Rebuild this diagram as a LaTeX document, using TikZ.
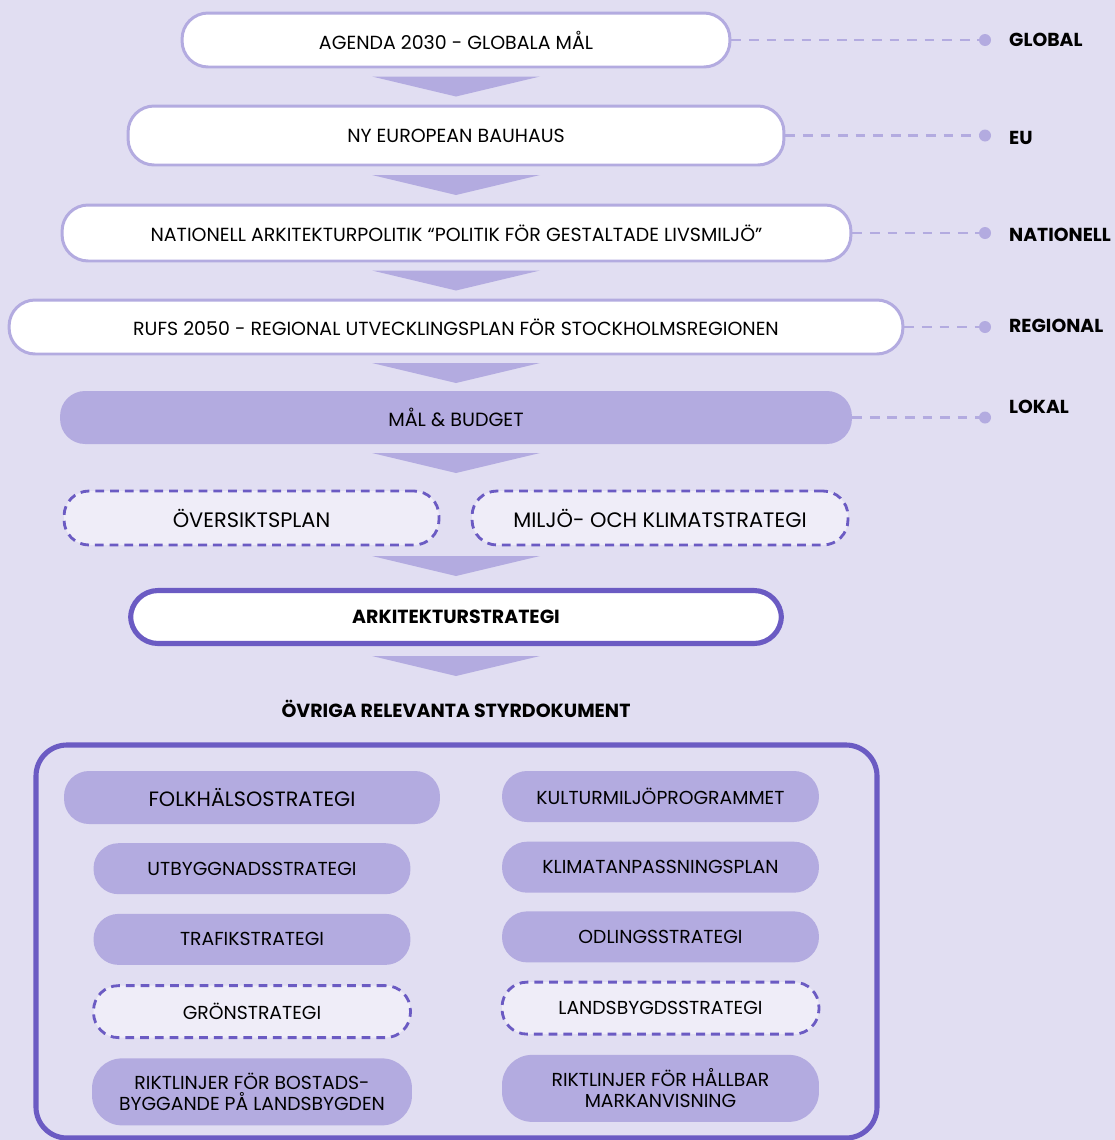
\documentclass[tikz,border=0pt]{standalone}
\usepackage{fontspec}
\setmainfont{Poppins}
\usepackage{xcolor}
\usepackage{tikz}
\usetikzlibrary{positioning}
\definecolor{bgpurple}{HTML}{E1DEF2}
\definecolor{lightpurple}{HTML}{B3ABE0}
\definecolor{darkpurple}{HTML}{6B5BC3}
\definecolor{palepurple}{HTML}{EFEDF8}

\begin{document}
\begin{tikzpicture}[x=0.02cm,y=-0.02cm,
  level/.style={draw=lightpurple,line width=1.7pt,fill=white,rounded corners=0.52cm,minimum height=1.08cm,font=\fontsize{10.8}{12}\selectfont},
  filled/.style={fill=lightpurple,rounded corners=0.5cm,minimum height=1.02cm,minimum width=6.34cm,font=\fontsize{10.7}{12}\selectfont},
  optional/.style={draw=darkpurple,line width=1.6pt,dash pattern=on 5pt off 3.4pt,fill=palepurple,rounded corners=0.5cm,minimum height=1.04cm,minimum width=6.34cm,font=\fontsize{10.7}{12}\selectfont},
  guide/.style={lightpurple,line width=1.7pt,dash pattern=on 5.5pt off 4.5pt},
  tag/.style={anchor=west,font=\bfseries\fontsize{10.7}{12}\selectfont},
  tri/.style={fill=lightpurple}]
\fill[bgpurple] (0,0) rectangle (1115,1140);
\useasboundingbox (0,0) rectangle (1115,1140);

\node[level,minimum width=10.96cm] (agenda) at (456,40) {AGENDA 2030 - GLOBALA MÅL};
\node[level,minimum width=13.12cm,minimum height=1.18cm] (bauhaus) at (456,135.5) {NY EUROPEAN BAUHAUS};
\node[level,minimum width=15.78cm,minimum height=1.12cm] (nationell) at (456.5,233) {NATIONELL ARKITEKTURPOLITIK “POLITIK FÖR GESTALTADE LIVSMILJÖ”};
\node[level,minimum width=17.88cm] (rufs) at (456,327) {RUFS 2050 - REGIONAL UTVECKLINGSPLAN FÖR STOCKHOLMSREGIONEN};
\node[filled,minimum width=15.84cm,minimum height=1.06cm,font=\fontsize{10.9}{12}\selectfont] (budget) at (456,417.5) {MÅL \& BUDGET};
\node[optional,minimum width=7.5cm,minimum height=1.08cm,font=\fontsize{11.9}{13}\selectfont] (oversikt) at (251.5,518) {ÖVERSIKTSPLAN};
\node[optional,minimum width=7.52cm,minimum height=1.08cm,font=\fontsize{11.9}{13}\selectfont] (miljo) at (660,518) {MILJÖ- OCH KLIMATSTRATEGI};
\node[draw=darkpurple,line width=2.9pt,fill=white,rounded corners=0.55cm,minimum width=13.02cm,minimum height=1.06cm,font=\bfseries\fontsize{10.8}{12}\selectfont] (ark) at (456,617) {ARKITEKTURSTRATEGI};

\foreach \y in {86.5,185,280.5,373,463,566,666}
  \fill[tri] (456,\y) ++(-84,-10) -- ++(168,0) -- ++(-84,20) -- cycle;

\coordinate (gx) at (985,0);
\foreach \n/\t/\ty in {agenda/GLOBAL/40,bauhaus/EU/138,nationell/NATIONELL/235,rufs/REGIONAL/326,budget/LOKAL/407}{
  \draw[guide] (\n.east) -- (\n.east -| gx);
  \fill[lightpurple] (\n.east -| gx) circle (0.12cm);
  \node[tag] (tag-\n) at (1003,\ty) {\t};
}

\node[font=\bfseries\fontsize{10.8}{12}\selectfont] (ovriga) at (456,709) {ÖVRIGA RELEVANTA STYRDOKUMENT};
\draw[darkpurple,line width=2.9pt,rounded corners=0.62cm] (36,745) rectangle (877,1138);

\node[filled,minimum width=7.52cm,minimum height=1.06cm,font=\fontsize{11.8}{13}\selectfont] (folk) at (252,797.5) {FOLKHÄLSOSTRATEGI};
\node[filled,below=0.37cm of folk] (utbygg) {UTBYGGNADSSTRATEGI};
\node[filled,below=0.38cm of utbygg] (trafik) {TRAFIKSTRATEGI};
\node[optional,below=0.38cm of trafik] (gron) {GRÖNSTRATEGI};
\node[filled,below=0.38cm of gron,minimum width=6.4cm,minimum height=1.34cm,rounded corners=0.6cm,align=center] (bostad) {RIKTLINJER FÖR BOSTADS-\\BYGGANDE PÅ LANDSBYGDEN};

\node[filled] (kultur) at (660.5,796.5) {KULTURMILJÖPROGRAMMET};
\node[filled,below=0.38cm of kultur] (klimat) {KLIMATANPASSNINGSPLAN};
\node[filled,below=0.36cm of klimat] (odling) {ODLINGSSTRATEGI};
\node[optional,below=0.36cm of odling] (landsbygd) {LANDSBYGDSSTRATEGI};
\node[filled,below=0.38cm of landsbygd,minimum height=1.34cm,rounded corners=0.6cm,align=center] (mark) {RIKTLINJER FÖR HÅLLBAR\\MARKANVISNING};
\end{tikzpicture}
\end{document}
